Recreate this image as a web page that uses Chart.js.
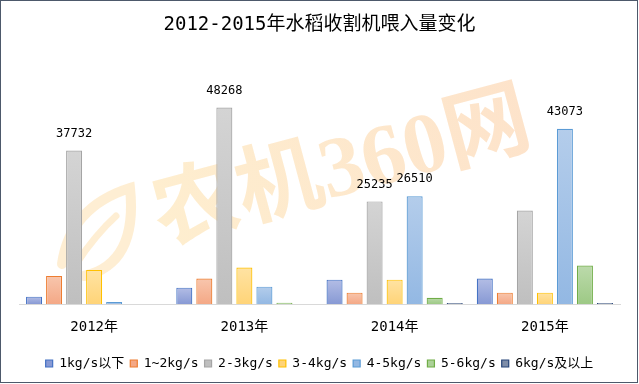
<!DOCTYPE html>
<html>
<head>
<meta charset="utf-8">
<script src="https://cdn.jsdelivr.net/npm/chart.js@4.4.1/dist/chart.umd.min.js"></script>
<style>
html,body{margin:0;padding:0;background:#fff;}
#wrap{position:relative;width:639px;height:384px;}
canvas{display:block;}
</style>
</head>
<body>
<div id="wrap"><canvas id="c" width="639" height="384"></canvas></div>
<script>
const categories = ['2012年', '2013年', '2014年', '2015年'];
const seriesNames = ['1kg/s以下', '1~2kg/s', '2-3kg/s', '3-4kg/s', '4-5kg/s', '5-6kg/s', '6kg/s及以上'];
const s1 = [1850, 4060, 6030, 6280];
const s2 = [6950, 6280, 2830, 2830];
const s3 = [37732, 48268, 25235, 23000];
const s4 = [8420, 8990, 6030, 2830];
const s5 = [540, 4310, 26510, 43073];
const s6 = [0, 370, 1600, 9480];
const s7 = [0, 0, 300, 300];
// values printed above bars (null = no label)
const labels3 = [37732, 48268, 25235, null];
const labels5 = [null, null, 26510, 43073];
const chartTitle = '2012-2015年水稻收割机喂入量变化';
const watermarkText = '农机360网';

const seriesValues = [s1, s2, s3, s4, s5, s6, s7];
const seriesLabels = [null, null, labels3, null, labels5, null, null];
const borderCols = ['#4472C4', '#ED7D31', '#A5A5A5', '#FFC000', '#5B9BD5', '#70AD47', '#264478'];
const topCols = ['#b3bde5', '#f8c6ad', '#d4d4d4', '#ffe3a3', '#b4cdeb', '#bcdaab', '#8d9bb5'];
const botCols = ['#8799d4', '#f4a886', '#bfbfbf', '#ffd478', '#93b8e3', '#9dc985', '#6f7f9c'];
const midCols = ['#9dabdc', '#f6b79a', '#c9c9c9', '#ffdb8d', '#a3c2e7', '#acd198', '#7e8da8'];

const FONT = '"DejaVu Sans Mono", "Noto Sans CJK SC", monospace';

function makeBg(i) {
  return function(ctx) {
    if (ctx.type !== 'data') return midCols[i];
    const chart = ctx.chart;
    const ys = chart.scales && chart.scales.y;
    if (!chart.chartArea || !ys) return midCols[i];
    const v = ctx.raw;
    if (!v) return midCols[i];
    const top = ys.getPixelForValue(v);
    const base = ys.getPixelForValue(0);
    if (!isFinite(top) || !isFinite(base) || base - top < 1) return midCols[i];
    const g = chart.ctx.createLinearGradient(0, top, 0, base);
    g.addColorStop(0, topCols[i]);
    g.addColorStop(1, botCols[i]);
    return g;
  };
}

const datasets = seriesNames.map((name, i) => ({
  label: name,
  data: seriesValues[i],
  valueLabels: seriesLabels[i],
  backgroundColor: makeBg(i),
  borderColor: borderCols[i],
  borderWidth: 1.2,
  borderSkipped: 'bottom',
  categoryPercentage: 0.933,
  barPercentage: 0.8
}));

const watermarkPlugin = {
  id: 'watermark',
  beforeDatasetsDraw(chart) {
    const c = chart.ctx;
    c.save();
    // leaf outline
    c.strokeStyle = 'rgba(252, 214, 150, 0.42)';
    c.lineWidth = 10;
    c.lineCap = 'round';
    c.beginPath();
    c.moveTo(62, 264);
    c.quadraticCurveTo(70, 207, 130, 188);
    c.quadraticCurveTo(138, 264, 84, 276);
    c.stroke();
    c.lineWidth = 7;
    c.beginPath();
    c.moveTo(76, 264);
    c.quadraticCurveTo(96, 234, 116, 216);
    c.stroke();
    // text
    c.translate(343, 172);
    c.rotate(-15 * Math.PI / 180);
    const g = c.createLinearGradient(-200, 0, 200, 0);
    g.addColorStop(0, 'rgba(253, 220, 155, 0.48)');
    g.addColorStop(1, 'rgba(251, 196, 145, 0.48)');
    c.fillStyle = g;
    c.font = 'bold 86px "Liberation Serif", "Noto Sans CJK SC", serif';
    c.textAlign = 'center';
    c.textBaseline = 'middle';
    c.fillText(watermarkText, 0, 0);
    c.restore();
  }
};

const valueLabelPlugin = {
  id: 'valueLabels',
  afterDatasetsDraw(chart) {
    const c = chart.ctx;
    c.save();
    c.font = '12px ' + FONT;
    c.fillStyle = '#000';
    c.textAlign = 'center';
    c.textBaseline = 'middle';
    chart.data.datasets.forEach((ds, di) => {
      if (!ds.valueLabels) return;
      const meta = chart.getDatasetMeta(di);
      meta.data.forEach((bar, j) => {
        const lv = ds.valueLabels[j];
        if (lv == null) return;
        c.fillText(String(lv), bar.x, bar.y - 17);
      });
    });
    c.restore();
  }
};

const framePlugin = {
  id: 'frame',
  afterDraw(chart) {
    const c = chart.ctx;
    c.save();
    c.strokeStyle = '#4d596b';
    c.lineWidth = 1;
    c.strokeRect(0.5, 0.5, 637, 382);
    c.restore();
  }
};

new Chart(document.getElementById('c'), {
  type: 'bar',
  data: { labels: categories, datasets },
  plugins: [watermarkPlugin, valueLabelPlugin, framePlugin],
  options: {
    responsive: false,
    animation: false,
    layout: { padding: { left: 19, right: 19, top: 0, bottom: 4 } },
    plugins: {
      title: {
        display: true,
        text: chartTitle,
        color: '#000',
        font: { family: FONT, size: 19, weight: 'normal' },
        padding: { top: 14, bottom: 23 }
      },
      legend: {
        position: 'bottom',
        labels: {
          color: '#000',
          font: { family: FONT, size: 13 },
          boxWidth: 7,
          boxHeight: 7,
          padding: 6
        }
      },
      tooltip: { enabled: false }
    },
    scales: {
      x: {
        grid: { display: false, drawTicks: false },
        border: { display: true, color: '#d9d9d9', width: 1 },
        ticks: { color: '#000', font: { family: FONT, size: 14 }, padding: 15 }
      },
      y: {
        display: false,
        min: 0,
        max: 60000
      }
    }
  }
});
</script>
</body>
</html>
